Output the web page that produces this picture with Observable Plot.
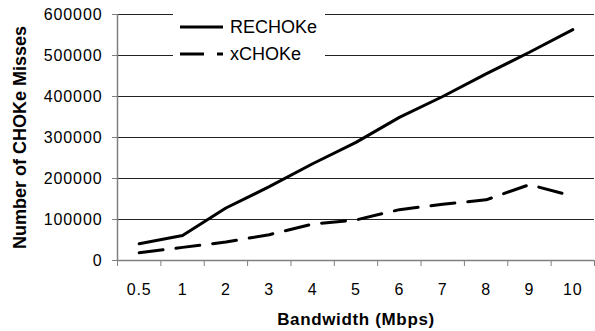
<!DOCTYPE html>
<html>
<head>
<meta charset="utf-8">
<script src="https://cdn.jsdelivr.net/npm/d3@7"></script>
<script src="https://cdn.jsdelivr.net/npm/@observablehq/plot@0.6"></script>
<style>
  body { margin: 0; background: #fff; }
  #wrap { position: relative; width: 595px; height: 331px; font-family: "Liberation Sans", Arial, sans-serif; }
  #legend { position: absolute; left: 173px; top: 4px; width: 152px; height: 66px; background: #fff; }
  #legend svg { display: block; }
</style>
</head>
<body>
<div id="wrap"><div id="legend"></div></div>
<script>
// ---- data ----
const categories = ["0.5", "1", "2", "3", "4", "5", "6", "7", "8", "9", "10"];
const rechoke = [41000, 61000, 128000, 180000, 236000, 288000, 349000, 400000, 455000, 508000, 563000];
const xchoke  = [19000, 32000, 45000, 63000, 89000, 99000, 124000, 137000, 148000, 185000, 157000];
const seriesNames = ["RECHOKe", "xCHOKe"];
const yTicks = [0, 100000, 200000, 300000, 400000, 500000, 600000];
const xTitle = "Bandwidth (Mbps)";
const yTitle = "Number of CHOKe Misses";

const rows = categories.map((c, i) => ({i, c, rechoke: rechoke[i], xchoke: xchoke[i]}));
const boundaries = d3.range(categories.length + 1).map(k => k - 0.5);
const dash = "24,13";

const axisColor = "#808080";

const plot = Plot.plot({
  width: 595,
  height: 331,
  marginLeft: 117,
  marginRight: 1,
  marginTop: 14,
  marginBottom: 71,
  style: {fontFamily: '"Liberation Sans", Arial, sans-serif', background: "#fff", overflow: "visible"},
  x: {type: "linear", domain: [-0.5, categories.length - 0.5]},
  y: {domain: [0, 600000]},
  marks: [
    Plot.ruleY(yTicks.filter(d => d > 0), {stroke: "#222", strokeWidth: 1}),
    Plot.ruleX([-0.5], {stroke: axisColor, strokeWidth: 1.5}),
    Plot.ruleY([0], {stroke: axisColor, strokeWidth: 1.5}),
    Plot.axisY({ticks: yTicks, tickSize: 5, tickPadding: 10, stroke: axisColor, fill: "#000",
      fontSize: 16, tickFormat: d3.format("d"), label: null}),
    Plot.axisX({ticks: boundaries, tickSize: 6, stroke: axisColor, tickFormat: () => "", label: null}),
    Plot.axisX({ticks: d3.range(categories.length), tickSize: 0, tickPadding: 23, fill: "#000",
      fontSize: 16, tickFormat: i => categories[i], label: null}),
    Plot.line(rows, {x: "i", y: "rechoke", stroke: "#000", strokeWidth: 3, strokeLinejoin: "miter"}),
    Plot.line(rows, {x: "i", y: "xchoke", stroke: "#000", strokeWidth: 3, strokeDasharray: dash}),
    Plot.text([xTitle], {frameAnchor: "bottom", dy: 59, fontSize: 17, fontWeight: "bold", fill: "#000",
      lineAnchor: "middle", textAnchor: "middle"}),
    Plot.text([yTitle], {frameAnchor: "left", dx: -97, rotate: -90, fontSize: 18, fontWeight: "bold", fill: "#000",
      lineAnchor: "middle", textAnchor: "middle"})
  ]
});

const wrap = document.getElementById("wrap");
wrap.insertBefore(plot, wrap.firstChild);
plot.style.position = "absolute";
plot.style.left = "0px";
plot.style.top = "0px";

const sel = d3.select(plot);
sel.selectAll('g[aria-label="y-axis tick label"] text').attr("letter-spacing", 0.9);
sel.selectAll('g[aria-label="x-axis tick label"] text').attr("letter-spacing", 0.9);
sel.selectAll('g[aria-label="text"]').attr("letter-spacing", null);
// title spacing
sel.selectAll('g[aria-label="text"] text').each(function() {
  const t = d3.select(this);
  if (t.text() === xTitle) t.attr("letter-spacing", 0.65);
});

// ---- legend ----
const lg = d3.select("#legend").append("svg").attr("width", 152).attr("height", 66);
const styles = [null, dash];
seriesNames.forEach((name, k) => {
  const y = k === 0 ? 23 : 50;
  lg.append("line").attr("x1", 7).attr("x2", 50).attr("y1", y).attr("y2", y)
    .attr("stroke", "#000").attr("stroke-width", 3)
    .attr("stroke-dasharray", styles[k]);
  lg.append("text").attr("x", 57).attr("y", y).attr("dy", "0.35em")
    .attr("font-size", 18).attr("font-family", '"Liberation Sans", Arial, sans-serif')
    .attr("fill", "#000").text(name);
});
</script>
</body>
</html>
